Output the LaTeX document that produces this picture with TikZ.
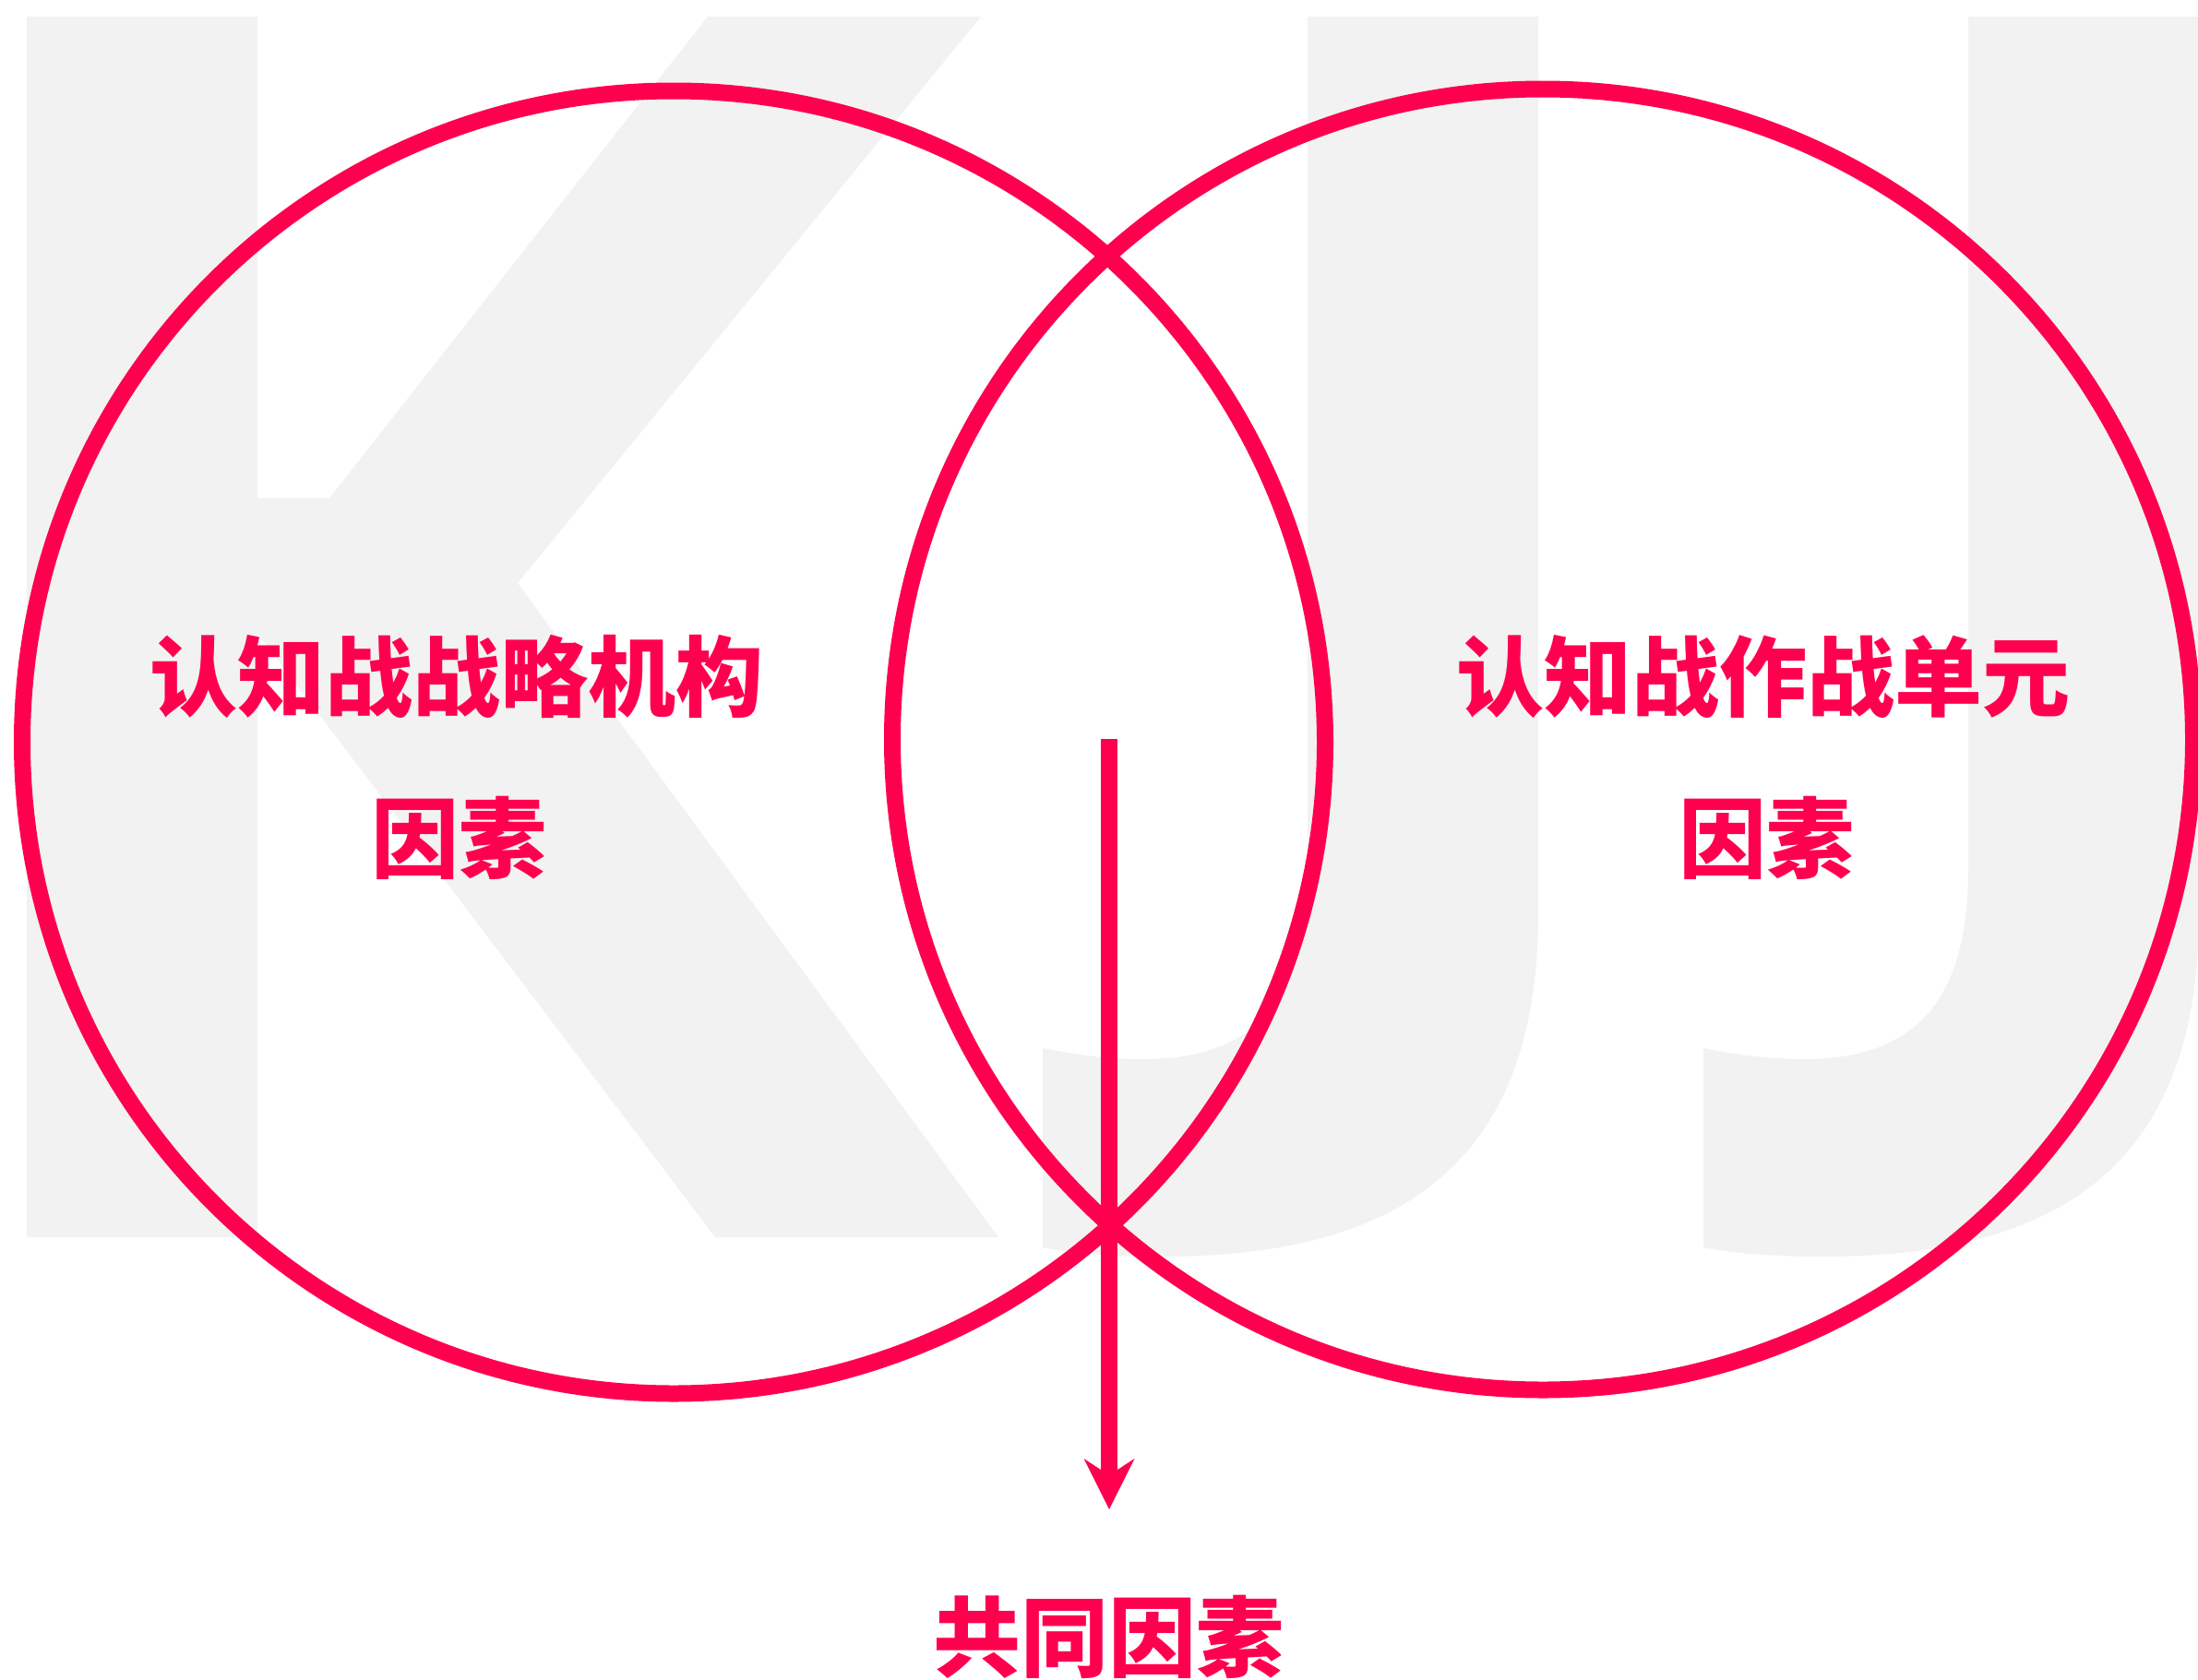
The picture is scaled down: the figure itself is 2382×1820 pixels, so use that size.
\documentclass[tikz,border=0pt]{standalone}
\usepackage{fontspec}
\newfontfamily\cjk{Noto Sans CJK SC}
\usetikzlibrary{arrows.meta}
\definecolor{rose}{HTML}{FF004F}
\definecolor{ghost}{HTML}{F2F2F2}
\tikzset{
  ring/.style={circle, draw=rose, line width=18pt, inner sep=0pt},
  lbl/.style={text=rose, font=\cjk\bfseries\fontsize{95pt}{100pt}\selectfont, inner sep=0pt, anchor=base},
  flow/.style={draw=rose, line width=18pt, -{Stealth[length=55pt,width=55pt,inset=18pt,line width=0pt]}},
  bgletter/.style={fill=ghost}
}
\begin{document}
\begin{tikzpicture}[x=1pt,y=-1pt]
\useasboundingbox (0,0) rectangle (2382,1820);
\clip (0,0) rectangle (2382,1820);
% background letter K
\fill[bgletter] (29,18) -- (279,18) -- (279,540) -- (357,540) -- (767,18) -- (1063,18)
  -- (561,632) -- (1082,1341) -- (775,1341) -- (279,686) -- (279,1341) -- (29,1341) -- cycle;
% background letters J
\foreach \sx in {0,716}{
\begin{scope}[xshift=\sx pt]
\fill[bgletter] (1417,18) -- (1667,18) -- (1667,990)
  .. controls (1667,1250) and (1530,1362) .. (1260,1362)
  .. controls (1200,1362) and (1160,1358) .. (1130,1352)
  -- (1130,1136)
  .. controls (1160,1142) and (1195,1148) .. (1240,1148)
  .. controls (1380,1148) and (1417,1060) .. (1417,940) -- cycle;
\end{scope}}
% circles
\node[ring, minimum size=1412pt] (leftring) at (730,804.5) {};
\node[ring, minimum size=1410pt] (rightring) at (1672,801.5) {};
% texts
\node[lbl] (lefttitle) at (495,769) {认知战战略机构};
\node[lbl] (leftsub) at (497,944) {因素};
\node[lbl] (righttitle) at (1911,769) {认知战作战单元};
\node[lbl] (rightsub) at (1914,944) {因素};
\node[lbl] (common) at (1201,1810) {共同因素};
% arrow
\coordinate (src) at (1202,801);
\coordinate (dst) at (1202,1636);
\draw[flow] (src) -- (dst);
\end{tikzpicture}
\end{document}
